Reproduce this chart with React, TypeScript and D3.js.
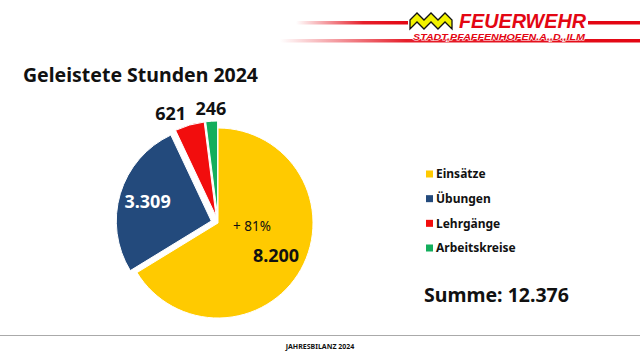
import React from "react";
import * as d3 from "d3";

const categories = ["Einsätze", "Übungen", "Lehrgänge", "Arbeitskreise"];
const values = [8200, 3309, 621, 246];
const valueLabels = ["8.200", "3.309", "621", "246"];
const colors = ["#FFCA00", "#234A7C", "#F20D0D", "#13AE5C"];
const labelInside = [true, true, false, false];
const labelAnchor = ["middle", "middle", "end", "middle"];
const explode = [0, 7, 7, 7];
const title = "Geleistete Stunden 2024";
const changeLabel = "+ 81%";
const totalLabel = "Summe: 12.376";
const footer = "JAHRESBILANZ 2024";
const brand = "FEUERWEHR";
const brandSub = "STADT,PFAFFENHOFEN.A.,D.,ILM";

const W = 640;
const H = 360;
const FONT = "'Noto Sans', 'Open Sans', sans-serif";

export default function App() {
  const cx = 218;
  const cy = 223;
  const r = 95;
  const pie = d3.pie<number>().sort(null).value((d) => d);
  const arcs = pie(values);
  const arc = d3.arc<d3.PieArcDatum<number>>().innerRadius(0).outerRadius(r);
  const inLabel = d3.arc<d3.PieArcDatum<number>>().innerRadius(r * 1.4).outerRadius(0);
  const outLabel = d3.arc<d3.PieArcDatum<number>>().innerRadius(r * 2.26).outerRadius(0);
  const pctArc = d3.arc<any>().innerRadius(0).outerRadius(r * 0.72);
  const pctPos = pctArc.centroid({ startAngle: (95 * Math.PI) / 180, endAngle: (95 * Math.PI) / 180 } as any);

  const legendY = d3.scalePoint<string>().domain(categories).range([174, 248]);

  const zig = (y0: number) => {
    const pts: [number, number][] = [];
    for (let i = 0; i <= 6; i++) pts.push([410 + i * 7, y0 + (i % 2 === 0 ? 7 : 0)]);
    return pts;
  };
  const top = zig(13);
  const bot = zig(22).reverse();
  const logoPath = d3.line()([...top, ...bot]) + "Z";

  return (
    <div style={{ position: "fixed", left: 0, top: 0, width: W, height: H, background: "#fff" }}>
      <svg width={W} height={H} style={{ display: "block" }} fontFamily={FONT}>
        <defs>
          <linearGradient id="fadeA" x1="0" x2="1" y1="0" y2="0">
            <stop offset="0" stopColor="#E30613" stopOpacity="0" />
            <stop offset="0.6" stopColor="#E30613" stopOpacity="0.9" />
            <stop offset="1" stopColor="#E30613" stopOpacity="1" />
          </linearGradient>
          <linearGradient id="fadeB" x1="0" x2="1" y1="0" y2="0">
            <stop offset="0" stopColor="#E30613" stopOpacity="0" />
            <stop offset="0.35" stopColor="#E30613" stopOpacity="0.9" />
            <stop offset="1" stopColor="#E30613" stopOpacity="1" />
          </linearGradient>
        </defs>
        <rect width={W} height={H} fill="#fff" />
        {/* header */}
        <rect x={296} y={21} width={112} height={3.5} fill="url(#fadeA)" />
        <rect x={588} y={21} width={52} height={3.5} fill="#E30613" />
        <rect x={280} y={39} width={360} height={3.5} fill="url(#fadeB)" />
        <path d={logoPath} fill="#F2F200" stroke="#111" strokeWidth={1.3} strokeLinejoin="miter" />
        <text x={459} y={27.5} fontSize={19.5} fontWeight={900} fontStyle="italic" fill="#E30613" stroke="#fff" strokeWidth={0.6} paintOrder="stroke"
          fontFamily="'Liberation Sans', Arial, sans-serif" textLength={127} lengthAdjust="spacingAndGlyphs">{brand}</text>
        <text x={413} y={39.5} fontSize={8.8} fontWeight={900} fontStyle="italic" fill="#E30613" stroke="#fff" strokeWidth={1.2} paintOrder="stroke"
          fontFamily="'Liberation Sans', Arial, sans-serif" textLength={172} lengthAdjust="spacingAndGlyphs">{brandSub}</text>

        {/* title */}
        <text x={23} y={82} fontSize={19.5} fontWeight={700} fill="#111">{title}</text>

        {/* pie */}
        <g transform={`translate(${cx},${cy})`}>
          {arcs.map((a, i) => {
            const mid = (a.startAngle + a.endAngle) / 2;
            const dx = Math.sin(mid) * explode[i];
            const dy = -Math.cos(mid) * explode[i];
            return (
              <g key={i} transform={`translate(${dx},${dy})`}>
                <path d={arc(a) || ""} fill={colors[i]} stroke="#fff" strokeWidth={1} />
              </g>
            );
          })}
          {arcs.map((a, i) => {
            const mid = (a.startAngle + a.endAngle) / 2;
            const dx = Math.sin(mid) * explode[i];
            const dy = -Math.cos(mid) * explode[i];
            const [lx, ly] = labelInside[i] ? inLabel.centroid(a) : outLabel.centroid(a);
            return (
              <text key={"l" + i} x={lx + dx} y={ly + dy} dy="0.36em" textAnchor={labelAnchor[i]} fontSize={18} fontWeight={700}
                fill={i === 1 ? "#fff" : "#111"}>{valueLabels[i]}</text>
            );
          })}
          <text x={pctPos[0]} y={pctPos[1]} dy="0.36em" textAnchor="middle" fontSize={13.5} fill="#111">{changeLabel}</text>
        </g>

        {/* legend */}
        {categories.map((c, i) => (
          <g key={c} transform={`translate(426,${legendY(c)})`}>
            <rect x={0} y={-3.5} width={7} height={7} fill={colors[i]} />
            <text x={10} y={0} dy="0.36em" fontSize={12} fontWeight={700} fill="#111">{c}</text>
          </g>
        ))}

        <text x={424} y={302} fontSize={19.5} fontWeight={700} fill="#111">{totalLabel}</text>

        {/* footer */}
        <line x1={0} x2={W} y1={335.5} y2={335.5} stroke="#aaa" strokeWidth={1} />
        <text x={320} y={349} textAnchor="middle" fontSize={7} fontWeight={700} fill="#111">{footer}</text>
      </svg>
    </div>
  );
}
